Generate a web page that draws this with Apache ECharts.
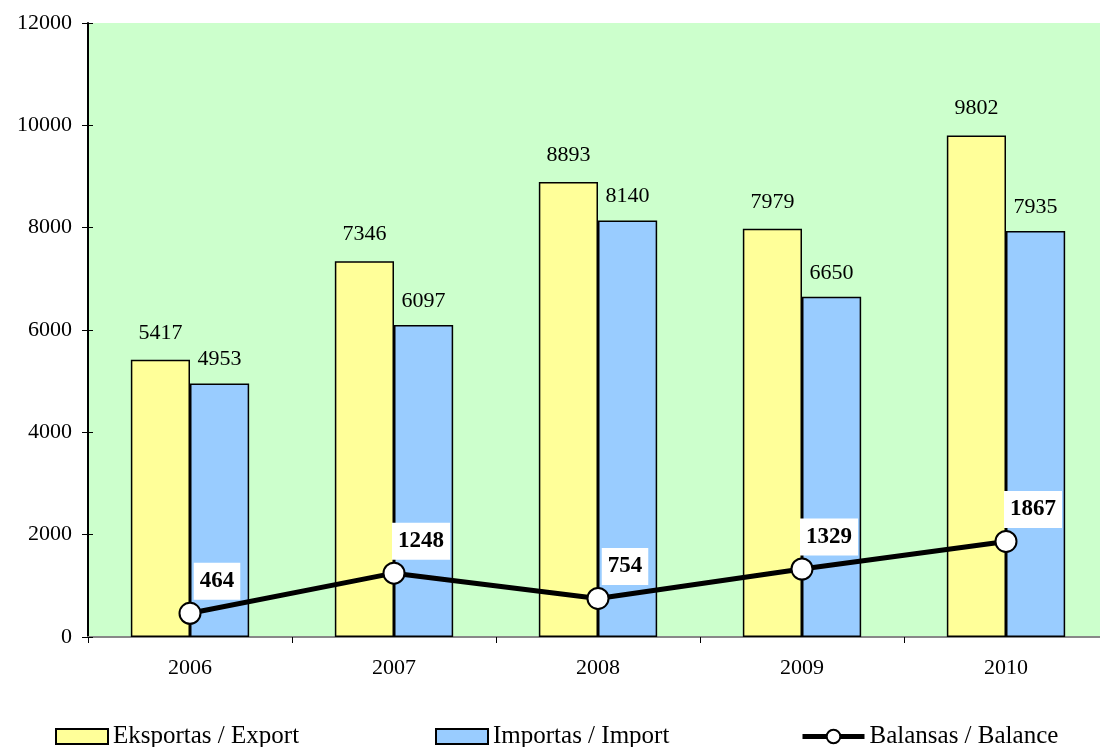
<!DOCTYPE html>
<html>
<head>
<meta charset="utf-8">
<script src="https://cdn.jsdelivr.net/npm/echarts@6/dist/echarts.min.js"></script>
<style>
  html, body { margin: 0; padding: 0; background: #fff; }
  #chart { width: 1100px; height: 747px; }
</style>
</head>
<body>
<div id="chart"></div>
<script>
const years = ['2006', '2007', '2008', '2009', '2010'];
const exportValues = [5417, 7346, 8893, 7979, 9802];
const importValues = [4953, 6097, 8140, 6650, 7935];
const balanceValues = [464, 1248, 754, 1329, 1867];

const font = '"Liberation Serif", "Times New Roman", serif';

let chart = echarts.init(document.getElementById('chart'));

const legendText = { fontFamily: font, fontSize: 25, color: '#000' };

let option = {
  animation: false,
  textStyle: { fontFamily: font },
  grid: {
    left: 88, top: 23, width: 1020, height: 614,
    outerBoundsMode: 'none',
    show: true, backgroundColor: '#ccffcc', borderWidth: 0
  },
  legend: [
    {
      left: 50, top: 719, itemWidth: 52, itemHeight: 15, icon: 'rect',
      textStyle: legendText,
      data: [{ name: 'Eksportas / Export', itemStyle: { borderColor: '#000', borderWidth: 2 } }]
    },
    {
      left: 430, top: 719, itemWidth: 52, itemHeight: 15, icon: 'rect',
      textStyle: legendText,
      data: [{ name: 'Importas / Import', itemStyle: { borderColor: '#000', borderWidth: 2 } }]
    },
    {
      left: 795, top: 719, itemWidth: 62, itemHeight: 17,
      textStyle: legendText,
      data: [{
        name: 'Balansas / Balance',
        lineStyle: { width: 5, color: '#000' },
        itemStyle: { color: '#fff', borderColor: '#000', borderWidth: 2 }
      }]
    }
  ],
  xAxis: [
    {
      type: 'category',
      data: years,
      axisLine: { lineStyle: { color: '#000', width: 2 } },
      axisTick: { show: true, length: 6, lineStyle: { color: '#000' } },
      axisLabel: { color: '#000', fontSize: 22, fontFamily: font, margin: 20 }
    },
    {
      type: 'category',
      data: years,
      position: 'top',
      axisLine: { show: true, lineStyle: { color: '#888', width: 2 } },
      axisTick: { show: false },
      axisLabel: { show: false }
    }
  ],
  yAxis: [
    {
      type: 'value',
      min: 0, max: 12000, interval: 2000,
      axisLine: { show: true, lineStyle: { color: '#000', width: 2 } },
      axisTick: { show: true, length: 6, lineStyle: { color: '#000' } },
      splitLine: { show: false },
      axisLabel: {
        color: '#000', fontSize: 22, fontFamily: font, margin: 16,
        formatter: v => String(v)
      }
    },
    {
      type: 'value',
      position: 'left',
      min: 0, max: 12000, interval: 2000,
      axisLine: { show: false },
      axisTick: { show: true, inside: true, length: 5, lineStyle: { color: '#000' } },
      splitLine: { show: false },
      axisLabel: { show: false }
    }
  ],
  series: [
    {
      name: 'Eksportas / Export',
      type: 'bar',
      data: exportValues,
      barWidth: '29%',
      barGap: '0%',
      itemStyle: { color: '#ffff99', borderColor: '#000', borderWidth: 1.5 },
      label: { show: true, position: 'top', distance: 16, color: '#000', fontSize: 22, fontFamily: font }
    },
    {
      name: 'Importas / Import',
      type: 'bar',
      data: importValues,
      barWidth: '29%',
      barGap: '0%',
      itemStyle: { color: '#99ccff', borderColor: '#000', borderWidth: 1.5 },
      label: { show: true, position: 'top', distance: 13, color: '#000', fontSize: 22, fontFamily: font }
    },
    {
      name: 'Balansas / Balance',
      type: 'line',
      data: balanceValues,
      symbol: 'circle',
      symbolSize: 21,
      z: 5,
      lineStyle: { color: '#000', width: 5 },
      itemStyle: { color: '#fff', borderColor: '#000', borderWidth: 2 },
      label: {
        show: true, position: 'top', distance: 2, offset: [27, 0],
        color: '#000', fontSize: 23, fontWeight: 'bold', fontFamily: font,
        backgroundColor: '#fff', padding: [7, 6, 7, 6]
      }
    }
  ]
};

chart.setOption(option);
</script>
</body>
</html>
